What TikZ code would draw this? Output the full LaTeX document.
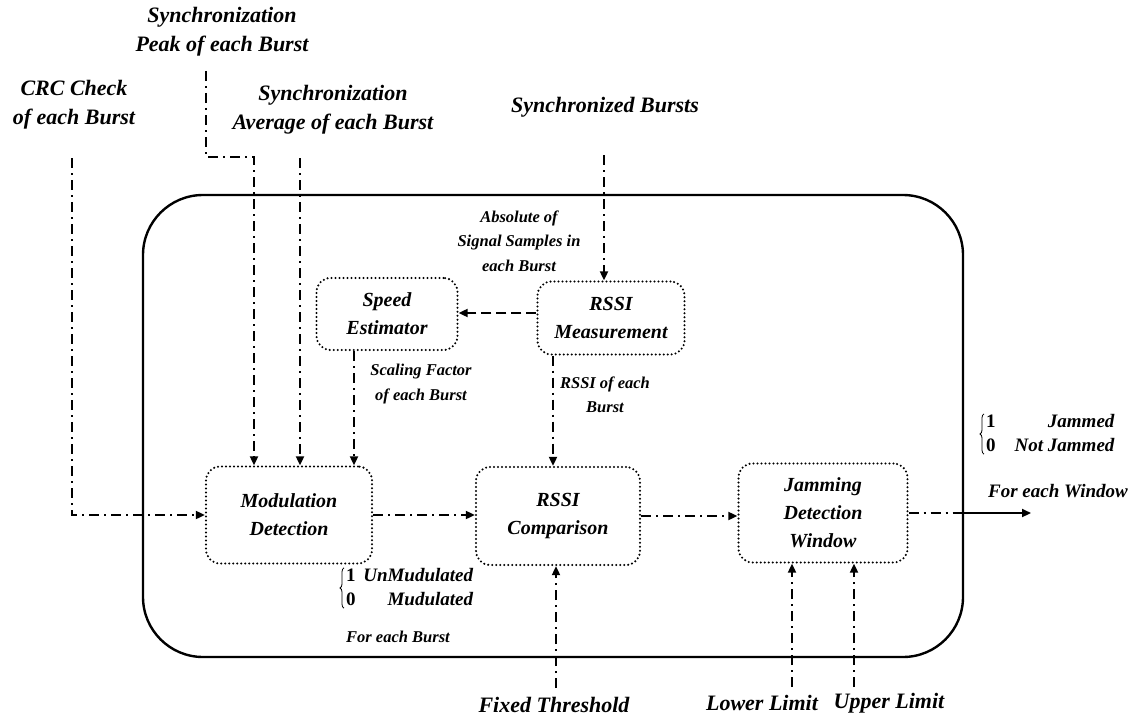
\documentclass[tikz,border=0pt]{standalone}
\usepackage{fontspec}
\setmainfont{Liberation Serif}
\usetikzlibrary{arrows.meta,decorations.pathreplacing}
\begin{document}
\begin{tikzpicture}[x=1pt,y=-1pt,
  big/.style={font=\bfseries\itshape\fontsize{22}{29}\selectfont, align=center, inner sep=0pt},
  mid/.style={font=\bfseries\itshape\fontsize{19}{24}\selectfont, align=center, inner sep=0pt},
  small/.style={font=\bfseries\itshape\fontsize{16.5}{24.5}\selectfont, align=center, inner sep=0pt},
  block/.style={draw, line width=2.3pt, dash pattern=on 0pt off 4pt, line cap=round,
    rounded corners=14pt, inner sep=0pt, align=center,
    font=\bfseries\itshape\fontsize{20}{28}\selectfont},
  frame/.style={draw, line width=2.4pt, rounded corners=60pt, inner sep=0pt},
  arrowtip/.style={-{Triangle[length=9pt,width=8pt]}},
  flow/.style={line width=1.9pt, dash pattern=on 10pt off 5pt on 2pt off 5pt, arrowtip},
  dotline/.style={line width=1.9pt, dash pattern=on 10pt off 5pt on 2pt off 5pt},
  dashflow/.style={line width=1.9pt, dash pattern=on 10pt off 5pt, arrowtip},
  outflow/.style={line width=2.2pt, arrowtip},
  curly/.style={decorate, decoration={brace, amplitude=4pt}, line width=0.8pt}
]
\useasboundingbox (0,0) rectangle (1136,717);

% enclosing frame of the detector
\node[frame, minimum width=820pt, minimum height=462pt] (frame) at (553,426) {};

% processing blocks
\node[block, minimum width=141pt, minimum height=72pt] (speed) at (387,314) {Speed\\Estimator};
\node[block, minimum width=147pt, minimum height=73pt] (meas) at (611,318) {RSSI\\Measurement};
\node[block, minimum width=166pt, minimum height=97pt] (mod) at (289,515) {Modulation\\Detection};
\node[block, minimum width=164pt, minimum height=98pt] (comp) at (558,516) {RSSI\\Comparison};
\node[block, minimum width=169pt, minimum height=99pt] (jam) at (823,513) {Jamming\\Detection\\Window};

% external input labels
\node[big] (peakL) at (222,32) {Synchronization\\Peak of each Burst};
\node[big] (crcL) at (74,105) {CRC Check\\of each Burst};
\node[big] (avgL) at (333,110) {Synchronization\\Average of each Burst};
\node[big] (syncL) at (605,107) {Synchronized Bursts};
\node[big] (fixL) at (554,705) {Fixed Threshold};
\node[big] (lowL) at (762,703) {Lower Limit};
\node[big] (upL) at (889,703) {Upper Limit};

% internal signal labels
\node[small] (absL) at (519,241) {Absolute of\\Signal Samples in\\each Burst};
\node[small] (sclL) at (421,384) {Scaling Factor\\of each Burst};
\node[small] (rsbL) at (605,395) {RSSI of each\\Burst};
\node[small] (febL) at (398,637) {For each Burst};
\node[mid, anchor=west] (modV) at (346,589) {\begin{tabular}{@{}l@{\hspace{0.4em}}r@{}}\upshape 1 & UnMudulated\\ \upshape 0 & Mudulated\end{tabular}};
\node[mid, anchor=west] (jamV) at (986,435) {\begin{tabular}{@{}l@{\hspace{1em}}r@{}}\upshape 1 & Jammed\\ \upshape 0 & Not Jammed\end{tabular}};
\node[mid] (fewL) at (1058,491) {For each Window};

% value braces
\draw[curly] ([xshift=-2pt,yshift=5pt]modV.south west) -- ([xshift=-2pt,yshift=-3pt]modV.north west);
\draw[curly] ([xshift=-2pt,yshift=5pt]jamV.south west) -- ([xshift=-2pt,yshift=-3pt]jamV.north west);

% free ends of the input and output lines
\coordinate (crcS) at (72,158);
\coordinate (peakS) at (206,71);
\coordinate (peakK) at (254,157);
\coordinate (avgS) at (300,158);
\coordinate (syncS) at (604,155);
\coordinate (fixS) at (556,688);
\coordinate (lowS) at (792,687);
\coordinate (upS) at (854,687);
\coordinate (scl) at ([xshift=-33pt]speed.south);
\coordinate (rsb) at ([xshift=-58pt]meas.south);
\coordinate (outK) at (jam.east -| frame.east);
\coordinate (outE) at (1031,513);

% inputs into the modulation detector
\draw[flow] (crcS) |- (mod.west);
\draw[flow] (peakS) |- (peakK) -- (peakK |- mod.north);
\draw[flow] (avgS) -- (avgS |- mod.north);
\draw[flow] (scl) -- (scl |- mod.north);

% RSSI path
\draw[flow] (syncS) -- (syncS |- meas.north);
\draw[dashflow] ([yshift=1pt]speed.east -| meas.west) -- ([yshift=1pt]speed.east);
\draw[flow] (rsb) -- (rsb |- comp.north);
\draw[flow] (mod.east) -- (mod.east -| comp.west);
\draw[flow] (comp.east) -- (comp.east -| jam.west);
\draw[flow] (fixS) -- (fixS |- comp.south);
\draw[flow] (lowS) -- (lowS |- jam.south);
\draw[flow] (upS) -- (upS |- jam.south);

% decision output
\draw[dotline] (jam.east) -- (outK);
\draw[outflow] (outK) -- (outE);
\end{tikzpicture}
\end{document}
